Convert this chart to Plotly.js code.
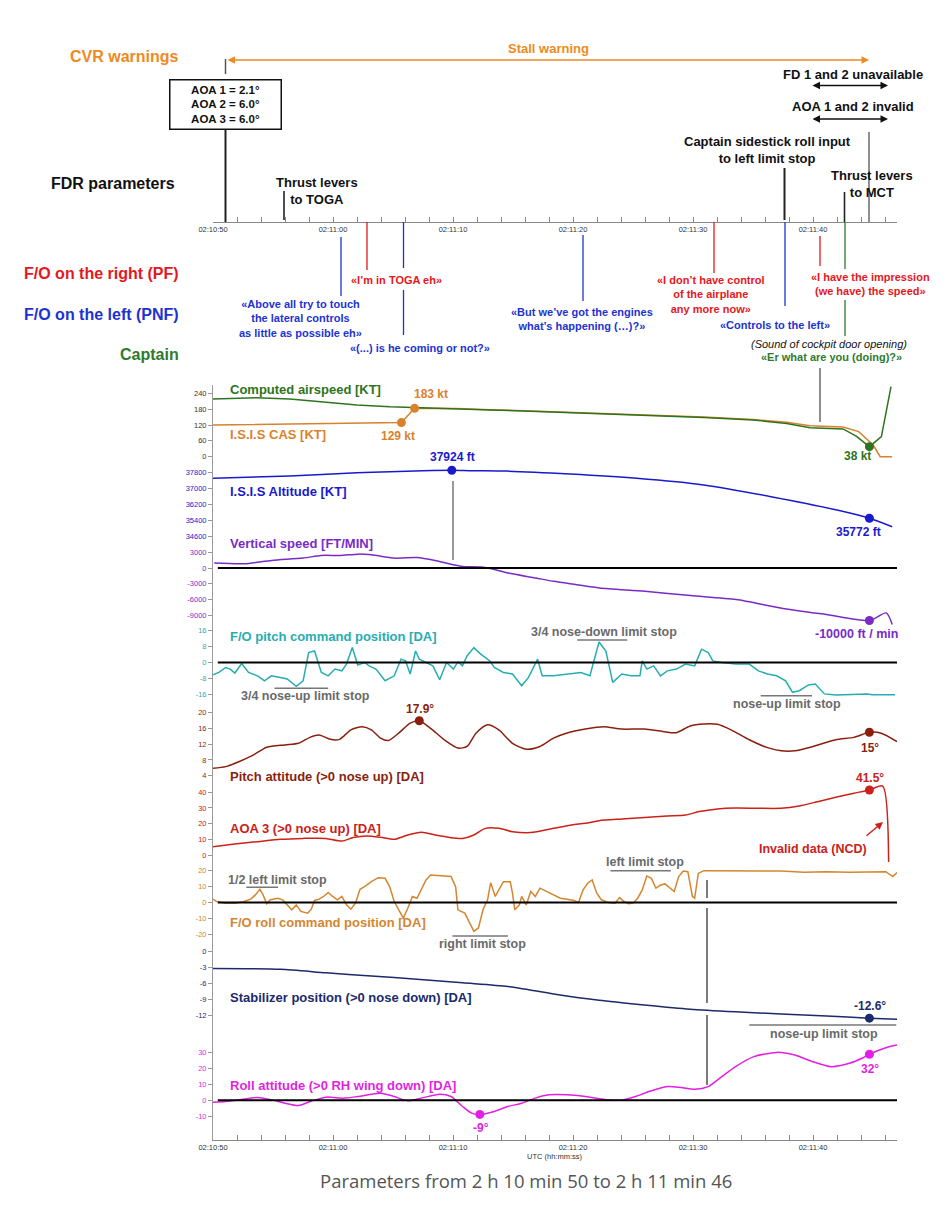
<!DOCTYPE html>
<html><head><meta charset="utf-8">
<script src="https://cdn.plot.ly/plotly-3.0.1.min.js"></script>
<style>html,body{margin:0;padding:0;background:#fff}#chart{width:950px;height:1206px}</style>
</head><body><div id="chart"></div>
<script>
// ---------- DATA (time in seconds after 02:10:50) ----------
const timeTickVals = [0, 10, 20, 30, 40, 50];
const timeTickText = ['02:10:50', '02:11:00', '02:11:10', '02:11:20', '02:11:30', '02:11:40'];

const spdTicks = [0, 60, 120, 180, 240];
const altTicks = [34600, 35400, 36200, 37000, 37800];
const vsTicks = [-9000, -6000, -3000, 0, 3000];
const pcmdTicks = [-16, -8, 0, 8, 16];
const pattTicks = [4, 8, 12, 16, 20];
const aoaTicks = [0, 10, 20, 30, 40];
const rcmdTicks = [-20, -10, 0, 10, 20];
const stabTicks = [-12, -9, -6, -3, 0];
const rollTicks = [-10, 0, 10, 20, 30];

const casT = [0, 3.6, 6.4, 9.2, 12, 14.75, 17.5, 20.3, 23.1, 25.9, 29.75, 35.3, 40.9, 45, 47.8, 49.75, 52.5, 53.6, 54.7, 55.7, 56.5];
const casV = [218, 223, 218, 206, 196, 189, 186, 181, 177, 173, 167, 158, 148, 139, 126, 110, 105, 78, 38, 76, 265];

const isisT = [0, 6.4, 12, 15.7, 16.8, 20.3, 23.1, 25.9, 29.75, 35.3, 40.9, 45, 47.8, 49.75, 52.5, 53.8, 55.0, 55.6, 56.6];
const isisV = [120, 124, 126, 129, 183, 182, 178, 174, 168, 159, 150, 141, 130, 117, 112, 95, 45, 0, 0];

const altT = [0, 6.4, 12, 14.75, 17.5, 19.9, 21.6, 24.5, 29.75, 35.3, 40.9, 46.5, 52, 54.7, 56.6];
const altV = [37517, 37633, 37800, 37850, 37900, 37924, 37900, 37880, 37734, 37517, 37180, 36590, 35915, 35500, 35070];

const vsT = [0.1, 2.6, 4.9, 7.5, 9.0, 10.6, 12.1, 13.2, 15.1, 17.0, 18.5, 20.0, 20.8, 22.7, 24.6, 26.9, 28.4, 30.3, 32.2, 36.0, 39.8, 43.6, 47.3, 51.1, 54.7, 56.1, 56.6];
const vsV = [945, 818, 1452, 1892, 2400, 2400, 2652, 2526, 1892, 2020, 1452, 630, 315, 125, -950, -1900, -2532, -3165, -3800, -4430, -5250, -6010, -7595, -8860, -10000, -8545, -10760];

const pcmdT = [0, 0.49, 1.06, 1.44, 1.82, 2.39, 2.96, 3.72, 4.29, 4.86, 5.61, 6.18, 6.94, 7.51, 7.97, 8.46, 9.03, 9.6, 10.17, 10.74, 11.12, 11.61, 12.06, 12.63, 13.01, 13.58, 14.34, 15.1, 15.67, 16.05, 16.43, 16.88, 17.19, 17.75, 18.32, 18.89, 19.46, 20.03, 20.41, 20.79, 21.17, 21.74, 22.31, 23.07, 23.44, 24.2, 24.96, 25.72, 26.29, 27.05, 27.43, 28.38, 29.51, 30.65, 31.41, 32.17, 32.74, 33.31, 34.07, 34.83, 35.58, 35.77, 36.15, 36.72, 37.29, 37.86, 38.62, 39.38, 40.14, 40.71, 41.27, 41.65, 42.41, 43.55, 44.69, 45.45, 46.21, 46.97, 47.72, 48.29, 48.86, 49.62, 50.19, 50.95, 51.9, 54.55, 54.93, 56.83];
const pcmdV = [-6.2, -5.0, -2.5, -3.3, -5.3, -0.5, -5.0, -6.7, -9.2, -6.7, -7.5, -8.3, -12.0, -9.2, 5.0, 5.8, -5.0, -6.7, -3.3, -4.2, -0.8, 7.5, -1.3, 0, -1.7, -3.3, -9.2, -6.7, 1.7, 0.8, -5.8, 5.8, 1.7, 0, -1.7, -8.7, 0, -3.3, 0.3, -1.7, 3.3, 7.5, 4.2, 0.8, -2.5, -5.0, -5.8, -11.7, -7.5, 1.7, -6.7, -6.7, -5.8, -5.0, -6.7, 10.3, 5.8, -10.0, -5.8, -6.7, -6.7, 0.8, -3.3, -1.7, -6.7, -4.2, -3.3, -0.8, -1.7, 6.7, 5.0, 0.8, 0, -0.8, -0.8, -4.2, -5.8, -6.7, -9.2, -15.0, -14.2, -11.3, -10.8, -15.8, -16.3, -15.8, -16.2, -16.2];

const pattT = [0, 1.06, 2.2, 3.34, 4.48, 5.99, 7.13, 8.08, 8.84, 9.79, 10.55, 11.49, 12.44, 13.2, 13.96, 14.61, 15.48, 16.43, 17.19, 18.13, 19.27, 20.41, 21.17, 21.93, 22.88, 23.82, 24.96, 26.1, 27.24, 28.38, 29.51, 31.03, 32.55, 34.07, 35.96, 37.48, 38.62, 39.76, 40.9, 42.03, 43.17, 44.69, 46.21, 47.34, 48.48, 50.0, 51.9, 53.41, 54.7, 55.69, 57.0];
const pattV = [5.9, 6.3, 7.6, 9.2, 11.2, 11.8, 12.2, 13.7, 14.3, 13.2, 13.2, 15.6, 16.4, 15.6, 13.5, 12.9, 14.8, 17.3, 17.9, 16.0, 13.1, 11.0, 11.4, 14.8, 16.9, 15.6, 12.2, 10.7, 11.4, 13.5, 14.8, 15.8, 16.4, 15.8, 15.8, 15.2, 14.9, 16.6, 17.1, 17.0, 15.6, 13.1, 11.1, 10.3, 10.3, 11.4, 13.1, 13.7, 15.0, 14.75, 12.6];

const aoaT = [0, 1.82, 3.72, 5.61, 7.51, 9.41, 10.74, 11.68, 12.82, 13.96, 15.1, 16.24, 17.37, 18.51, 19.65, 20.79, 21.74, 22.69, 23.82, 24.96, 26.48, 28.38, 29.89, 31.03, 32.17, 34.07, 35.96, 37.86, 39.38, 40.52, 42.03, 43.55, 45.45, 47.34, 48.86, 50.38, 51.9, 53.41, 54.7, 55.8, 56.3];
const aoaV = [5.3, 7.0, 8.5, 10.0, 10.6, 10.6, 8.9, 11.1, 12.1, 11.3, 10.0, 12.8, 14.5, 12.8, 11.3, 10.6, 12.8, 17.0, 17.0, 14.9, 14.3, 17.0, 19.2, 20.2, 21.9, 23.0, 24.0, 24.9, 25.5, 27.7, 29.4, 30.0, 29.8, 29.8, 31.3, 34.0, 36.8, 39.4, 41.5, 44.0, -5.3];

const rcmdT = [0, 0.3, 1.06, 1.82, 2.58, 3.15, 3.53, 3.91, 4.17, 4.48, 4.78, 5.05, 5.42, 5.8, 6.18, 6.56, 6.94, 7.32, 7.89, 8.19, 8.46, 8.84, 9.22, 9.6, 9.98, 10.36, 10.74, 11.12, 11.49, 11.87, 12.25, 12.63, 13.2, 13.77, 14.34, 14.72, 15.1, 15.48, 15.86, 16.24, 16.62, 17.0, 17.37, 17.75, 18.13, 19.27, 19.84, 20.22, 20.41, 20.98, 21.36, 21.74, 22.12, 22.5, 22.88, 23.14, 23.52, 23.82, 24.2, 24.77, 24.96, 25.15, 25.53, 25.72, 26.1, 26.48, 26.86, 27.24, 27.81, 28.38, 28.95, 29.51, 30.08, 30.46, 30.84, 31.22, 31.6, 31.98, 32.36, 32.93, 33.5, 33.88, 34.26, 34.64, 35.01, 35.39, 35.77, 36.15, 36.53, 36.91, 37.29, 37.67, 38.05, 38.43, 38.81, 39.19, 39.57, 39.95, 40.14, 40.44, 40.9, 43.55, 47.34, 49.24, 51.14, 53.03, 56.07, 56.64, 57.0];
const rcmdV = [2.1, 0.6, -0.4, -0.4, 0.6, 2.1, 4.8, 8.3, 4.8, -0.8, 1.7, 2.1, 2.7, 1.7, -1.5, -4.6, -1.5, -5.6, -6.7, -4.2, 1.3, 2.1, 3.8, 6.3, 3.8, 1.7, 3.8, -1.5, -4.2, -0.4, 8.3, 10.0, 13.1, 15.6, 15.2, 10.0, 0.6, -4.6, -9.8, -3.5, 3.8, 2.7, 7.9, 14.2, 17.3, 16.9, 16.3, 10.0, -4.6, -6.7, -12.9, -18.1, -16.0, -4.6, 1.7, 12.5, 3.8, 7.9, 13.1, 13.1, 5.8, -4.6, -1.5, 3.8, -1.5, 6.9, 3.8, 9.0, 6.9, 4.8, 2.7, 2.1, 1.3, 0, 7.9, 12.1, 14.2, 5.8, 1.7, 0, -0.4, 3.1, 0.6, -0.8, -0.4, 2.7, 7.9, 16.7, 15.2, 9.0, 11.0, 11.7, 9.4, 6.9, 16.3, 19.8, 19.4, 3.8, 2.7, 18.3, 20.0, 20.0, 19.8, 19.0, 19.4, 19.0, 19.4, 16.3, 18.8];

const stabT = [0, 5.61, 9.41, 13.2, 17.0, 20.79, 24.58, 28.38, 32.17, 35.96, 39.76, 43.55, 47.34, 51.14, 54.7, 57.0];
const stabV = [-3.2, -3.35, -4.0, -4.6, -5.2, -5.9, -6.6, -8.0, -9.2, -10.1, -10.9, -11.4, -11.8, -12.2, -12.6, -12.8];

const rollT = [0, 1.06, 2.2, 3.72, 4.86, 5.99, 7.13, 8.27, 9.41, 10.93, 12.06, 13.96, 15.1, 16.24, 17.37, 18.89, 19.84, 20.79, 21.55, 22.23, 23.44, 24.58, 25.72, 26.86, 28.0, 29.51, 31.03, 32.93, 34.07, 35.2, 36.34, 37.86, 39.0, 40.14, 41.27, 42.41, 43.55, 45.07, 46.97, 48.48, 50.0, 51.52, 53.03, 54.17, 54.7, 56.07, 57.0];
const rollV = [-1.3, -0.8, 0.2, 1.7, 0.2, -1.9, -3.4, -0.4, 1.9, 1.3, 2.3, 4.4, 2.3, -0.4, 1.3, 3.8, 2.3, -4.0, -8.2, -9.0, -7.1, -4.0, -1.9, 1.3, 3.4, 3.4, 2.3, 0.2, 0, 2.3, 5.5, 8.6, 8.0, 6.9, 8.6, 14.9, 21.2, 27.5, 30.2, 28.5, 24.3, 21.2, 23.3, 26.8, 29.0, 33.1, 34.8];

// highlighted points
const isisMarkT = [15.7, 16.8], isisMarkV = [129, 183];
const casMarkT = [54.7], casMarkV = [38];
const altMarkT = [19.9, 54.7], altMarkV = [37924, 35500];
const vsMarkT = [54.7], vsMarkV = [-10000];
const pattMarkT = [17.19, 54.7], pattMarkV = [17.9, 15.0];
const aoaMarkT = [54.7], aoaMarkV = [41.5];
const stabMarkT = [54.7], stabMarkV = [-12.6];
const rollMarkT = [22.23, 54.7], rollMarkV = [-9.0, 29.0];

// ---------- COLOURS ----------
const C = {
  cas: '#2E7420', isis: '#D9822B', alt: '#1A1ACD', vs: '#7A2BC6', pcmd: '#27ADB1',
  patt: '#8A1F0E', aoa: '#CC2019', rcmd: '#D4862F', stab: '#1B2A6B', roll: '#E21FE2',
  sRed: '#E5171D', sBlue: '#1C33D1', sGreen: '#2E7B2E', cvr: '#EE8A22', grey: '#6a6a6a'
};

// ---------- GEOMETRY HELPERS ----------
const W = 950, H = 1206, XL = 213, XR = 897, TMAX = 57;
const SX = (XR - XL) / TMAX;
const tx = p => (p - XL) / SX;        // pixel x -> seconds
const py = p => 1 - p / H;            // pixel y -> paper
const pxp = p => p / W;               // pixel x -> paper
const FONT = 'Liberation Sans, Arial, Helvetica, sans-serif';

function yax(top, bot, v1, p1, v2, p2, ticks, color) {
  const s = (v1 - v2) / (p2 - p1);
  return {
    domain: [1 - bot / H, 1 - top / H],
    range: [v2 - (bot - p2) * s, v1 + (p1 - top) * s],
    tickmode: 'array', tickvals: ticks, ticktext: ticks.map(String),
    ticks: 'outside', ticklen: 4, tickcolor: '#999',
    showline: true, linecolor: '#9a9a9a', linewidth: 1, showgrid: false, zeroline: false,
    tickfont: { size: 7.5, color: color, family: FONT }, anchor: 'x', fixedrange: true
  };
}

const xbase = {
  domain: [XL / W, XR / W], range: [0, TMAX],
  tickmode: 'array', tickvals: timeTickVals, ticktext: timeTickText,
  ticks: 'inside', ticklen: 5, tickcolor: '#888', showline: true, linecolor: '#888',
  minor: { tickmode: 'linear', tick0: 0, dtick: 2, ticks: 'inside', ticklen: 5, tickcolor: '#888' },
  showgrid: false, zeroline: false, tickfont: { size: 7.5, color: '#333' }, fixedrange: true
};

const layout = {
  width: W, height: H, margin: { l: 0, r: 0, t: 0, b: 0 },
  paper_bgcolor: '#fff', plot_bgcolor: 'rgba(0,0,0,0)', showlegend: false,
  font: { family: FONT, color: '#111' },
  xaxis: Object.assign({}, xbase, { anchor: 'y9' }),
  xaxis2: Object.assign({}, xbase, { anchor: 'y10' }),
  yaxis: yax(385, 464, 240, 393.3, 0, 456.7, spdTicks, '#333'),
  yaxis2: yax(464, 544, 37800, 472.7, 34600, 536, altTicks, C.alt),
  yaxis3: yax(544, 626, 3000, 552.3, -9000, 615.3, vsTicks, C.vs),
  yaxis4: yax(626, 703, 16, 630.7, -16, 694.3, pcmdTicks, C.pcmd),
  yaxis5: yax(703, 783, 20, 712.5, 4, 775.7, pattTicks, C.patt),
  yaxis6: yax(783, 862, 40, 792.3, 0, 855, aoaTicks, C.aoa),
  yaxis7: yax(862, 943, 20, 870.7, -20, 934.3, rcmdTicks, C.rcmd),
  yaxis8: yax(943, 1030, 0, 951.7, -12, 1015, stabTicks, C.stab),
  yaxis9: yax(1030, 1140, 30, 1052.7, -10, 1116, rollTicks, C.roll),
  yaxis10: { domain: [1 - 222 / H, 1 - 200 / H], visible: false, range: [0, 1], fixedrange: true },
  shapes: [], annotations: []
};

// ---------- SHAPES ----------
function vline(t, y0, y1, color, w) {
  layout.shapes.push({ type: 'line', xref: 'x', yref: 'paper', x0: t, x1: t, y0: py(y0), y1: py(y1), line: { color: color, width: w } });
}
function hseg(t0, t1, y, color, w) {
  layout.shapes.push({ type: 'line', xref: 'x', yref: 'paper', x0: t0, x1: t1, y0: py(y), y1: py(y), line: { color: color, width: w } });
}
function zero(yref) {
  layout.shapes.push({ type: 'line', xref: 'x', yref: yref, x0: 0.4, x1: TMAX, y0: 0, y1: 0, line: { color: '#000', width: 2 } });
}
zero('y3'); zero('y4'); zero('y7'); zero('y9');

// FDR event lines
vline(tx(225.5), 59, 74, '#555', 1.5);
vline(tx(225.5), 130, 222, '#222', 2);
vline(tx(284), 191, 220, '#222', 1.6);
vline(tx(784.5), 168, 220, '#222', 2);
vline(tx(844.5), 192, 222, '#222', 1.6);
vline(tx(869), 132, 222, '#444', 1.2);
// speech lines
vline(tx(341), 237, 296, C.sBlue, 1.3);
vline(tx(367), 222, 270, C.sRed, 1.3);
vline(tx(403.5), 222, 268, C.sBlue, 1.3);
vline(tx(403.5), 290, 335, C.sBlue, 1.3);
vline(tx(583), 235, 301, C.sBlue, 1.3);
vline(tx(714), 222, 273, C.sRed, 1.3);
vline(tx(785), 222, 306, C.sBlue, 1.3);
vline(tx(820), 236, 266, C.sRed, 1.3);
vline(tx(845), 222, 269, C.sGreen, 1.3);
vline(tx(845), 300, 336, C.sGreen, 1.3);
// connectors in the panels
vline(tx(820), 368, 422, '#444', 1.2);
vline(tx(453), 481, 560, '#555', 1.2);
vline(tx(707), 880, 898, '#222', 1.2);
vline(tx(707), 908, 1003, '#222', 1.2);
vline(tx(707), 1015, 1085, '#222', 1.2);
// limit-stop bars
hseg(30.35, 34.52, 640, '#777', 1.5);
hseg(5.12, 9.6, 688.3, '#777', 1.5);
hseg(45.64, 49.92, 695.7, '#777', 1.5);
hseg(2.77, 5.42, 887.3, '#777', 1.5);
hseg(33.12, 38.16, 870.7, '#777', 1.5);
hseg(19.95, 24.58, 936, '#777', 1.5);
hseg(44.69, 56.94, 1025, '#777', 1.5);

// ---------- TEXT ----------
function txt(text, x, y, o) {
  o = o || {};
  layout.annotations.push({
    text: text, xref: 'paper', yref: 'paper', x: pxp(x), y: py(y),
    xanchor: o.anchor || 'center', yanchor: 'middle', showarrow: false, align: o.align || 'center',
    font: { size: o.size || 12, color: o.color || '#111', family: o.family || FONT, weight: o.weight === undefined ? 700 : o.weight, style: o.style || 'normal' }
  });
}
function arrow(xTip, yTip, ax, ay, color, both) {
  layout.annotations.push({
    text: '', xref: 'x', yref: 'paper', x: tx(xTip), y: py(yTip), ax: ax, ay: ay,
    showarrow: true, arrowhead: 2, arrowsize: 1, arrowwidth: 1.5, arrowcolor: color,
    arrowside: both ? 'end+start' : 'end', standoff: 0, startstandoff: 0
  });
}

txt('CVR warnings', 124, 57, { size: 16, color: C.cvr });
txt('Stall warning', 548, 49, { size: 13, color: C.cvr });
arrow(869, 60, -643, 0, C.cvr, true);
txt('FD 1 and 2 unavailable', 853, 74, { size: 13 });
arrow(888, 85.5, -77, 0, '#111', true);
txt('AOA 1 and 2 invalid', 853, 107, { size: 13 });
arrow(888, 119, -77, 0, '#111', true);
layout.annotations.push({
  text: 'AOA 1 = 2.1°<br>AOA 2 = 6.0°<br>AOA 3 = 6.0°', xref: 'paper', yref: 'paper',
  x: pxp(225.5), y: py(104.5), xanchor: 'center', yanchor: 'middle', showarrow: false,
  width: 104, height: 42, borderpad: 3, bordercolor: '#111', borderwidth: 1.5, bgcolor: '#fff',
  font: { size: 11.5, color: '#111', family: FONT, weight: 700 }
});
txt('FDR parameters', 113, 183, { size: 16 });
txt('Thrust levers<br>to TOGA', 317, 190.5, { size: 13 });
txt('Captain sidestick roll input<br>to left limit stop', 767, 150, { size: 13 });
txt('Thrust levers<br>to MCT', 872, 183.5, { size: 13 });

txt('F/O on the right (PF)', 181, 273, { size: 16, color: C.sRed, anchor: 'right' });
txt('F/O on the left (PNF)', 181, 314, { size: 16, color: C.sBlue, anchor: 'right' });
txt('Captain', 181, 354, { size: 16, color: C.sGreen, anchor: 'right' });

txt('«I\u2019m in TOGA eh»', 396, 280, { size: 11, color: C.sRed });
txt('«Above all try to touch<br>the lateral controls<br>as little as possible eh»', 300, 318, { size: 11, color: C.sBlue });
txt('«(...) is he coming or not?»', 420, 348, { size: 11, color: C.sBlue });
txt('«But we\u2019ve got the engines<br>what\u2019s happening (…)?»', 582, 319, { size: 11, color: C.sBlue });
txt('«I don\u2019t have control<br>of the airplane<br>any more now»', 711, 294, { size: 11, color: C.sRed });
txt('«Controls to the left»', 775, 325, { size: 11, color: C.sBlue });
txt('«I have the impression<br>(we have) the speed»', 870, 284, { size: 11, color: C.sRed });
txt('(Sound of cockpit door opening)', 829, 344, { size: 11, color: '#111', weight: 400, style: 'italic' });
txt('«Er what are you (doing)?»', 831, 357, { size: 11, color: C.sGreen });

// panel labels
txt('Computed airspeed [KT]', 228, 389, { size: 13, color: C.cas, anchor: 'left' });
txt('I.S.I.S CAS [KT]', 228, 434, { size: 13, color: C.isis, anchor: 'left' });
txt('I.S.I.S Altitude [KT]', 228, 491, { size: 13, color: C.alt, anchor: 'left' });
txt('Vertical speed [FT/MIN]', 228, 543, { size: 13, color: C.vs, anchor: 'left' });
txt('F/O pitch command position [DA]', 228, 636, { size: 13, color: C.pcmd, anchor: 'left' });
txt('Pitch attitude (>0 nose up) [DA]', 228, 776, { size: 13, color: C.patt, anchor: 'left' });
txt('AOA 3 (>0 nose up) [DA]', 228, 828, { size: 13, color: C.aoa, anchor: 'left' });
txt('F/O roll command position [DA]', 228, 922, { size: 13, color: C.rcmd, anchor: 'left' });
txt('Stabilizer position (>0 nose down) [DA]', 228, 997, { size: 13, color: C.stab, anchor: 'left' });
txt('Roll attitude (>0 RH wing down) [DA]', 228, 1085, { size: 13, color: C.roll, anchor: 'left' });

// value labels
txt('183 kt', 431, 394, { color: C.isis });
txt('129 kt', 398, 436, { color: C.isis });
txt('38 kt', 857, 456, { color: C.cas });
txt('37924 ft', 452, 457, { color: C.alt });
txt('35772 ft', 858, 532, { color: C.alt });
txt('-10000 ft / min', 856, 634, { color: C.vs, size: 12.5 });
txt('17.9°', 420, 709, { color: C.patt });
txt('15°', 870, 748, { color: C.patt });
txt('41.5°', 870, 778, { color: C.aoa });
txt('Invalid data (NCD)', 813, 849, { color: C.aoa, size: 12.5 });
arrow(883, 822, -18, 15, C.aoa, false);
txt('-12.6°', 870, 1006, { color: C.stab });
txt('-9°', 481, 1128, { color: C.roll });
txt('32°', 870, 1069, { color: C.roll });

// limit stop labels
const gl = { size: 12.5, color: C.grey, weight: 700 };
txt('3/4 nose-down limit stop', 604, 632, gl);
txt('3/4 nose-up limit stop', 305, 696, gl);
txt('nose-up limit stop', 787, 704, gl);
txt('1/2 left limit stop', 226, 880, Object.assign({ anchor: 'left' }, gl));
txt('left limit stop', 645, 862, gl);
txt('right limit stop', 482, 944, gl);
txt('nose-up limit stop', 824, 1034, gl);

txt('UTC (hh:mm:ss)', 555, 1156, { size: 7.5, color: '#333', weight: 400 });
txt('Parameters from 2 h 10 min 50 to 2 h 11 min 46', 526, 1180, { size: 18.5, color: '#555', weight: 400, family: 'Open Sans, Lato, sans-serif' });

// ---------- TRACES ----------
function line(t, v, yid, color, shape) {
  return { x: t, y: v, xaxis: 'x', yaxis: yid, mode: 'lines', hoverinfo: 'skip',
    line: { color: color, width: 1.5, shape: shape || 'linear', smoothing: 0.7 } };
}
function dots(t, v, yid, color) {
  return { x: t, y: v, xaxis: 'x', yaxis: yid, mode: 'markers', hoverinfo: 'skip', cliponaxis: false,
    marker: { color: color, size: 9 } };
}
const data = [
  line(isisT, isisV, 'y', C.isis),
  line(casT, casV, 'y', C.cas),
  line(altT, altV, 'y2', C.alt, 'spline'),
  line(vsT, vsV, 'y3', C.vs, 'spline'),
  line(pcmdT, pcmdV, 'y4', C.pcmd),
  line(pattT, pattV, 'y5', C.patt, 'spline'),
  line(aoaT, aoaV, 'y6', C.aoa, 'spline'),
  line(rcmdT, rcmdV, 'y7', C.rcmd),
  line(stabT, stabV, 'y8', C.stab, 'spline'),
  line(rollT, rollV, 'y9', C.roll, 'spline'),
  dots(isisMarkT, isisMarkV, 'y', C.isis),
  dots(casMarkT, casMarkV, 'y', C.cas),
  dots(altMarkT, altMarkV, 'y2', C.alt),
  dots(vsMarkT, vsMarkV, 'y3', C.vs),
  dots(pattMarkT, pattMarkV, 'y5', C.patt),
  dots(aoaMarkT, aoaMarkV, 'y6', C.aoa),
  dots(stabMarkT, stabMarkV, 'y8', C.stab),
  dots(rollMarkT, rollMarkV, 'y9', C.roll),
  { x: timeTickVals, y: timeTickVals.map(() => 0.5), xaxis: 'x2', yaxis: 'y10', mode: 'markers',
    marker: { opacity: 0, size: 1 }, hoverinfo: 'skip' }
];

Plotly.newPlot('chart', data, layout, { displayModeBar: false, staticPlot: true });
</script></body></html>
